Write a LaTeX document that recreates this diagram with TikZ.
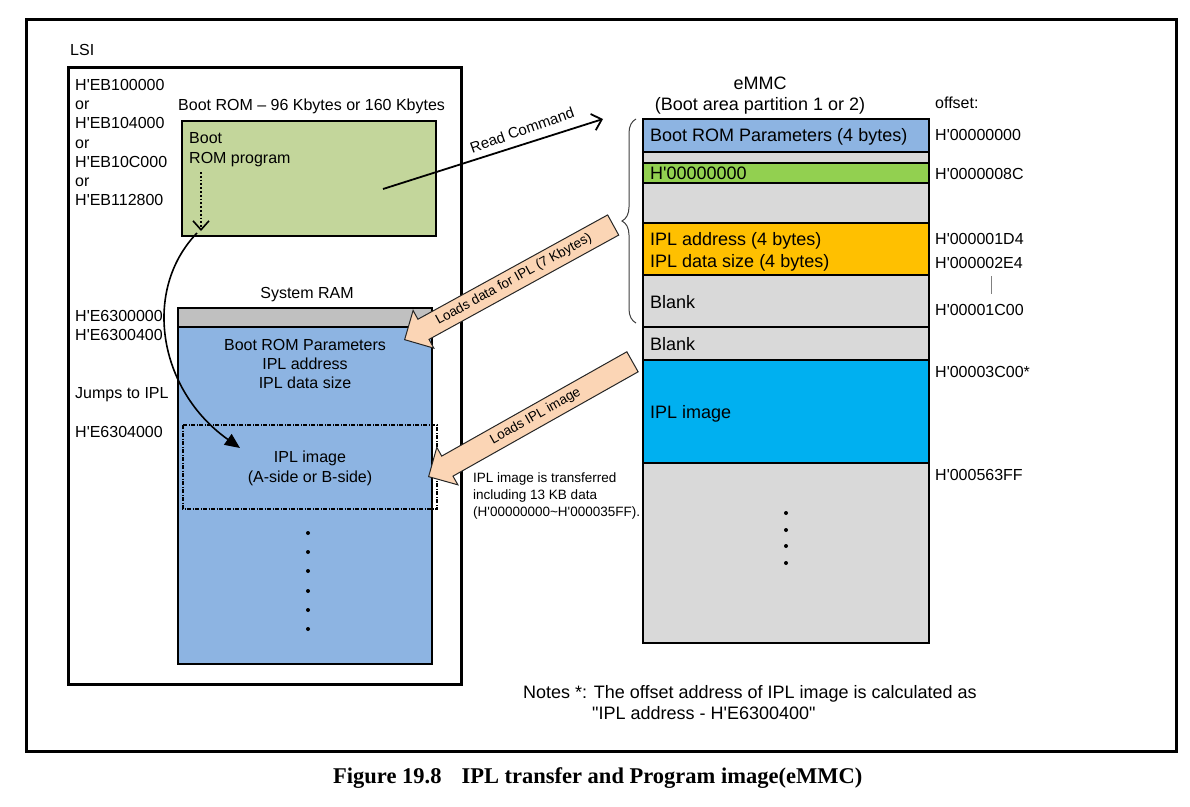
\documentclass[tikz,border=0pt]{standalone}
\usepackage{fontspec}
\setmainfont{Liberation Sans}[Ligatures=TeXOff]
\newfontfamily\capfont{Liberation Serif}
\usetikzlibrary{shapes.arrows,decorations.pathreplacing,arrows.meta}
\definecolor{romgreen}{HTML}{C3D69B}
\definecolor{ramblue}{HTML}{8DB4E2}
\definecolor{stripgray}{HTML}{C0C0C0}
\definecolor{cellgray}{HTML}{D9D9D9}
\definecolor{cellgreen}{HTML}{92D050}
\definecolor{cellorange}{HTML}{FFC000}
\definecolor{cellcyan}{HTML}{00B0F0}
\definecolor{peach}{HTML}{FBD5B5}
\tikzset{
  lbl/.style={inner sep=0pt, anchor=west, font=\fontsize{16}{19}\selectfont, text height=11.5pt, text depth=0pt},
  clbl/.style={lbl, anchor=center},
  big/.style={inner sep=0pt, anchor=west, font=\fontsize{18}{21}\selectfont, text height=12.9pt, text depth=0pt},
  cbig/.style={big, anchor=center},
  small/.style={inner sep=0pt, anchor=west, font=\fontsize{13.5}{16}\selectfont, text height=9.7pt, text depth=0pt},
  cell/.style={draw=black, line width=2.5pt},
  heavy/.style={draw=black, line width=3pt},
  blockarrow/.style={single arrow, draw=black!85, fill=peach, line width=1pt,
    font=\fontsize{13.5}{16}\selectfont, text height=10pt, text depth=3pt,
    inner xsep=0pt, inner ysep=4.5pt, single arrow head extend=10pt,
    single arrow tip angle=90, shape border rotate=180},
  dotmark/.style={fill=black, circle, inner sep=0pt, minimum size=4pt}
}
\begin{document}
\begin{tikzpicture}[x=1pt,y=-1pt]
\useasboundingbox (0,0) rectangle (1190,806);
\fill[white] (0,0) rectangle (1190,806);
% outer frame
\draw[line width=3pt] (26,19) rectangle (1176,751);
% LSI
\node[lbl] (lsi) at (70,50) {LSI};
\draw[heavy] (68,67) rectangle (461,684);
% addresses
\node[lbl] (a1) at (75,85) {H'EB100000};
\node[lbl] (o1) at (75,104) {or};
\node[lbl] (a2) at (75,123) {H'EB104000};
\node[lbl] (o2) at (75,143) {or};
\node[lbl] (a3) at (75,162) {H'EB10C000};
\node[lbl] (o3) at (75,181) {or};
\node[lbl] (a4) at (75,200) {H'EB112800};
\node[lbl] (a5) at (75,316) {H'E6300000};
\node[lbl] (a6) at (75,335) {H'E6300400};
\node[lbl] (jmp) at (75,393) {Jumps to IPL};
\node[lbl] (a7) at (75,432) {H'E6304000};
% Boot ROM
\node[lbl] (romt) at (178,105) {Boot ROM – 96 Kbytes or 160 Kbytes};
\draw[cell, fill=romgreen] (182,121) rectangle (436,236);
\node[lbl] (boot1) at (189,138) {Boot};
\node[lbl] (boot2) at (189,158) {ROM program};
\coordinate (dotA) at (201,172);
\coordinate (dotB) at (201,231);
\draw[line width=1.8pt, dotted, -{Straight Barb[length=9pt,width=16pt,line width=1.6pt]}] (dotA) -- (dotB);
% System RAM
\node[clbl] (ramt) at (307,293) {System RAM};
\draw[line width=2.8pt, fill=ramblue] (178,308) rectangle (432,664);
\draw[line width=2.8pt, fill=stripgray] (178,308) rectangle (432,327);
\node[clbl] (r1) at (305,345) {Boot ROM Parameters};
\node[clbl] (r2) at (305,364) {IPL address};
\node[clbl] (r3) at (305,383) {IPL data size};
\draw[line width=1.6pt, dash pattern=on 4pt off 1.5pt on 1pt off 1.5pt] (183,425) rectangle (437,509);
\node[clbl] (r4) at (310,457) {IPL image};
\node[clbl] (r5) at (310,477) {(A-side or B-side)};
\foreach \yy [count=\i] in {533,552,571,591,610,629} \node[dotmark] (rd\i) at (308,\yy) {};
% jump arrow
\coordinate (jumpstart) at (197,233);
\coordinate (jumpend) at (240,448);
\draw[line width=1.6pt, -{Triangle[length=15pt,width=13pt]}] (jumpstart) .. controls (142,290) and (158,390) .. (jumpend);
% Read command
\coordinate (rcA) at (383,189);
\coordinate (rcB) at (603,119);
\draw[line width=1.8pt, -{Straight Barb[length=9pt,width=17pt,line width=1.8pt]}] (rcA) -- (rcB);
\node[inner sep=0pt, font=\fontsize{15}{18}\selectfont, rotate=19.5] (rct) at (522,130) {Read Command};
% eMMC
\node[cbig] (em1) at (760,83) {eMMC};
\node[cbig] (em2) at (760,104) {(Boot area partition 1 or 2)};
\node[lbl] (off) at (935,103) {offset:};
\draw[cell, fill=ramblue] (643,119) rectangle (929,152);
\draw[cell, fill=cellgray] (643,152) rectangle (929,163);
\draw[cell, fill=cellgreen] (643,163) rectangle (929,183);
\draw[cell, fill=cellgray] (643,183) rectangle (929,223);
\draw[cell, fill=cellorange] (643,223) rectangle (929,275);
\draw[cell, fill=cellgray] (643,275) rectangle (929,327);
\draw[cell, fill=cellgray] (643,327) rectangle (929,360);
\draw[cell, fill=cellcyan] (643,360) rectangle (929,463);
\draw[cell, fill=cellgray] (643,463) rectangle (929,643);
\node[big] (e1) at (650,135) {Boot ROM Parameters (4 bytes)};
\node[big] (e2) at (650,173) {H'00000000};
\node[big] (e3) at (650,239) {IPL address (4 bytes)};
\node[big] (e4) at (650,261) {IPL data size (4 bytes)};
\node[big] (e5) at (650,302) {Blank};
\node[big] (e6) at (650,344) {Blank};
\node[big] (e7) at (650,412) {IPL image};
\foreach \yy [count=\i] in {513,530,546,563} \node[dotmark] (ed\i) at (786,\yy) {};
% offsets
\node[lbl] (f1) at (935,135) {H'00000000};
\node[lbl] (f2) at (935,174) {H'0000008C};
\node[lbl] (f3) at (935,239) {H'000001D4};
\node[lbl] (f4) at (935,263) {H'000002E4};
\coordinate (vlA) at (991,276);
\coordinate (vlB) at (991,294);
\draw[gray, line width=1pt] (vlA) -- (vlB);
\node[lbl] (f5) at (935,310) {H'00001C00};
\node[lbl] (f6) at (935,372) {H'00003C00*};
\node[lbl] (f7) at (935,475) {H'000563FF};
% brace
\coordinate (brB) at (636,323);
\coordinate (brT) at (636,119);
\draw[black!75, line width=1pt, decorate, decoration={brace, amplitude=14pt}] (brB) -- (brT);
% block arrows
\node[blockarrow, rotate=28.8, minimum height=238pt, anchor=tip] (load1) at (404,340) {Loads data for IPL (7 Kbytes)};
\node[blockarrow, rotate=29.4, minimum height=234pt, anchor=tip] (load2) at (428,477) {Loads IPL image};
% transfer note
\node[small] (t1) at (473,478) {IPL image is transferred};
\node[small] (t2) at (473,495) {including 13 KB data};
\node[small] (t3) at (473,512) {(H'00000000\textasciitilde H'000035FF).};
% notes
\node[big] (n1) at (523,692) {Notes *: The offset address of IPL image is calculated as};
\node[big] (n2) at (592,713) {"IPL address - H'E6300400"};
% caption
\node[inner sep=0pt, anchor=west, font=\capfont\bfseries\fontsize{22.5}{26}\selectfont, text height=15pt, text depth=0pt] (cap) at (333,776) {Figure 19.8\hspace{20pt}IPL transfer and Program image(eMMC)};
\end{tikzpicture}
\end{document}
